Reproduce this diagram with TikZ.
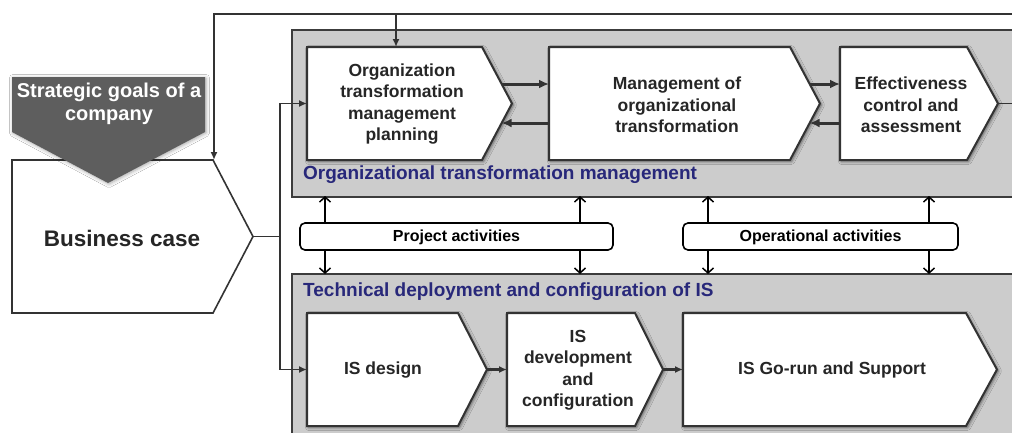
\documentclass[tikz,border=0pt]{standalone}
\usepackage{fontspec}
\setmainfont{Liberation Sans}
\usetikzlibrary{arrows.meta,shadows.blur}
\definecolor{boxline}{HTML}{333333}
\definecolor{txt}{HTML}{262626}
\definecolor{panel}{HTML}{CCCCCC}
\definecolor{panelline}{HTML}{3C3C3C}
\definecolor{navy}{RGB}{40,40,122}
\definecolor{goal}{HTML}{5E5E5E}
\tikzset{
  pent/.style={draw=boxline, line width=2pt, fill=white, line join=miter,
    blur shadow={shadow xshift=1.5pt, shadow yshift=-1.5pt, shadow blur radius=3pt, shadow opacity=55}},
  bcpent/.style={draw=boxline, line width=1.6pt, fill=white, line join=miter},
  boxtext/.style={font=\fontsize{17.5}{21.5}\selectfont\bfseries, text=txt, align=center, inner sep=0pt},
  paneltitle/.style={font=\fontsize{19}{22}\selectfont\bfseries, text=navy, anchor=west, inner sep=0pt},
  panelbox/.style={fill=panel, draw=panelline, line width=1.5pt},
  actbox/.style={draw=black, line width=1.6pt, fill=white, rounded corners=5pt},
  acttext/.style={font=\fontsize{16}{19}\selectfont\bfseries, text=black, inner sep=0pt},
  conn/.style={draw=boxline, line width=1.8pt, -{Latex[length=8pt,width=7pt]}},
  plainconn/.style={draw=boxline, line width=1.8pt},
  thick conn/.style={draw=boxline, line width=3pt, -{Latex[length=10pt,width=9pt]}},
  updown/.style={draw=black, line width=1.5pt, -{Straight Barb[length=5pt,width=11pt]}}
}
\begin{document}
\begin{tikzpicture}[x=1pt,y=-1pt]
\useasboundingbox (0,0) rectangle (1012,432);
\fill[white] (0,0) rectangle (1012,432);
\clip (0,0) rectangle (1012,432);

% panels
\draw[panelbox] (292,30) rectangle (1030,197);
\draw[panelbox] (292,274) rectangle (1030,460);
\node[paneltitle] (lab1) at (303,175) {Organizational transformation management};
\node[paneltitle] (lab2) at (303,292) {Technical deployment and configuration of IS};

% business case
\draw[bcpent] (12,160) -- (213,160) -- (253,236.5) -- (213,313) -- (12,313) -- cycle;
\coordinate (bc-tip) at (253,236.5);
\coordinate (bc-top) at (214,160);
\node[font=\fontsize{22.5}{26}\selectfont\bfseries, text=txt, inner sep=0pt] (bc) at (122,238) {Business case};

% strategic goals
\fill[goal, blur shadow={shadow xshift=1pt, shadow yshift=-1pt, shadow blur radius=3.5pt, shadow opacity=35}]
  (12,77) -- (205,77) -- (205,132) -- (108,183) -- (12,132) -- cycle;
\node[font=\fontsize{20}{22.5}\selectfont\bfseries, text=white, align=center, inner sep=0pt] (sg) at (109,104) {Strategic goals of a\\company};

% top boxes
\draw[pent] (307,47) -- (482,47) -- (512,103.5) -- (482,160) -- (307,160) -- cycle;
\draw[pent] (549,47) -- (790,47) -- (820,103.5) -- (790,160) -- (549,160) -- cycle;
\draw[pent] (840,47) -- (967,47) -- (998,103.5) -- (967,160) -- (840,160) -- cycle;
\node[boxtext] (plan) at (402,104) {Organization\\transformation\\management\\planning};
\node[boxtext] (mgmt) at (677,105) {Management of\\organizational\\transformation};
\node[boxtext] (eff) at (911,105) {Effectiveness\\control and\\assessment};
\coordinate (plan-w) at (307,103.5);
\coordinate (plan-n) at (396,47);
\coordinate (plan-e1) at (501.6,84);
\coordinate (plan-e2) at (501.6,123);
\coordinate (mgmt-w1) at (549,84);
\coordinate (mgmt-w2) at (549,123);
\coordinate (mgmt-e1) at (809.6,84);
\coordinate (mgmt-e2) at (809.6,123);
\coordinate (eff-w1) at (840,84);
\coordinate (eff-w2) at (840,123);
\coordinate (eff-tip) at (998,103.5);

% bottom boxes
\draw[pent] (307,313) -- (458,313) -- (487,369.5) -- (458,426) -- (307,426) -- cycle;
\draw[pent] (507,313) -- (635,313) -- (663,369.5) -- (635,426) -- (507,426) -- cycle;
\draw[pent] (683,313) -- (966,313) -- (997,369.5) -- (966,426) -- (683,426) -- cycle;
\node[boxtext] (isd) at (383,370) {IS design};
\node[boxtext] (isdev) at (578,370) {IS\\development\\and\\configuration};
\node[boxtext] (isgo) at (832,370) {IS Go-run and Support};
\coordinate (isd-w) at (307,369.5);
\coordinate (isd-tip) at (487,369.5);
\coordinate (isdev-w) at (507,369.5);
\coordinate (isdev-tip) at (663,369.5);
\coordinate (isgo-w) at (683,369.5);

% activity boxes
\draw[actbox] (300,223) rectangle (613,250);
\node[acttext] (proj) at (456.5,237) {Project activities};
\draw[actbox] (683,223) rectangle (958,250);
\node[acttext] (oper) at (820.5,237) {Operational activities};

% feedback loop
\coordinate (loopR) at (1040,103.5);
\coordinate (loopT) at (1040,14);
\coordinate (loopL) at (214,14);
\coordinate (loopB) at (396,14);
\draw[conn] (eff-tip) -- (loopR) -- (loopT) -- (loopL) -- (bc-top);
\draw[conn] (loopB) -- (plan-n);

% business case to both tracks
\coordinate (split) at (280,236.5);
\draw[plainconn] (bc-tip) -- (split);
\draw[conn] (split) |- (plan-w);
\draw[conn] (split) |- (isd-w);

% thick arrows between top boxes
\draw[thick conn] (plan-e1) -- (mgmt-w1);
\draw[thick conn] (mgmt-w2) -- (plan-e2);
\draw[thick conn] (mgmt-e1) -- (eff-w1);
\draw[thick conn] (eff-w2) -- (mgmt-e2);

% bottom arrows
\draw[conn, line width=2.2pt] (isd-tip) -- (isdev-w);
\draw[conn, line width=2.2pt] (isdev-tip) -- (isgo-w);

% up/down arrows
\foreach \x in {325,580,708,929}{
  \coordinate (u\x a) at (\x,223);
  \coordinate (u\x b) at (\x,196);
  \coordinate (d\x a) at (\x,250);
  \coordinate (d\x b) at (\x,274);
  \draw[updown] (u\x a) -- (u\x b);
  \draw[updown] (d\x a) -- (d\x b);
}
\end{tikzpicture}
\end{document}
